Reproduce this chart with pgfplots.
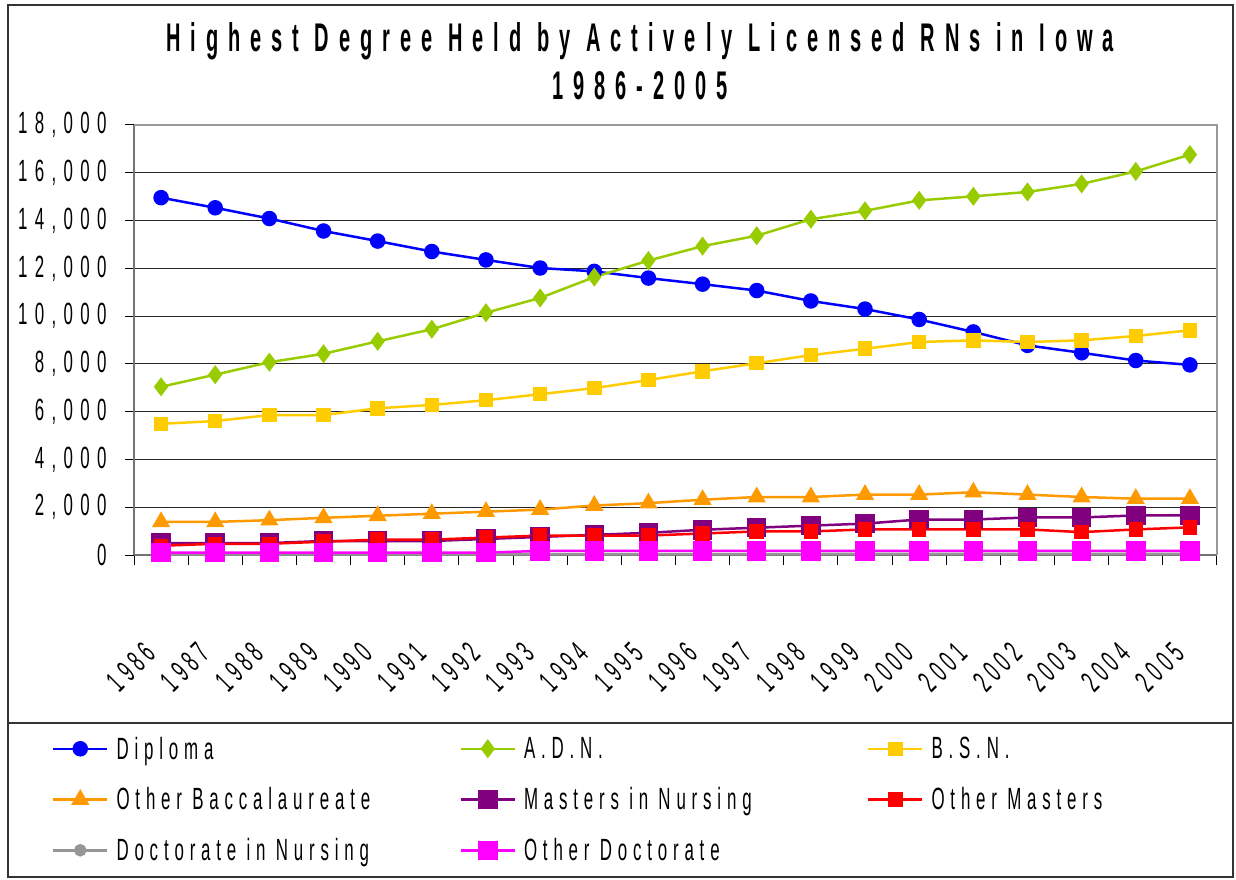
\documentclass[border=0pt]{standalone}
\usepackage{fontspec}
\setmainfont{Liberation Sans}
\newfontfamily\ticfont[FakeStretch=0.55,LetterSpace=17]{Liberation Sans}
\newfontfamily\yticfont[FakeStretch=0.55,LetterSpace=24]{Liberation Sans}
\newfontfamily\legfont[FakeStretch=0.55,LetterSpace=19]{Liberation Sans}
\newfontfamily\titlefont[FakeStretch=0.5,LetterSpace=25]{Liberation Sans}
\usepackage{pgfplots}
\pgfplotsset{compat=1.18}
\definecolor{cDip}{RGB}{0,0,255}
\definecolor{cADN}{RGB}{153,204,0}
\definecolor{cBSN}{RGB}{255,204,0}
\definecolor{cOB}{RGB}{255,153,0}
\definecolor{cMN}{RGB}{128,0,128}
\definecolor{cOM}{RGB}{255,0,0}
\definecolor{cDN}{RGB}{150,150,150}
\definecolor{cOD}{RGB}{255,0,255}
\newcommand{\tf}{\ticfont\fontsize{30.7}{32}\selectfont}
\newcommand{\ytf}{\yticfont\fontsize{30.7}{32}\selectfont}
\newcommand{\lf}{\legfont\fontsize{30.7}{32}\selectfont}
\begin{document}
\begin{tikzpicture}
\useasboundingbox (0pt,0pt) rectangle (1236pt,879pt);
\draw[line width=1.5pt, black!80] (8pt,2pt) rectangle (1233pt,874pt);
\draw[line width=1.5pt, black!80] (8pt,156pt) -- (1233pt,156pt);
\node[anchor=base, inner sep=0pt] at (640pt,827pt) {\titlefont\bfseries\fontsize{40}{42}\selectfont Highest Degree Held by Actively Licensed RNs in Iowa};
\node[anchor=base, inner sep=0pt] at (640pt,779pt) {\titlefont\bfseries\fontsize{40}{42}\selectfont 1986-2005};
\begin{axis}[
  at={(134pt,324pt)}, anchor=south west,
  scale only axis, width=1083pt, height=430pt,
  xmin=1985.5, xmax=2005.5, ymin=0, ymax=18000,
  clip=false,
  scaled y ticks=false,
  axis lines=left,
  axis line style={-, draw=black!55, line width=2pt},
  tick align=outside,
  major tick length=9pt, minor tick length=10pt,
  ytick={0,2000,...,18000},
  yticklabels={0,{2,000},{4,000},{6,000},{8,000},{10,000},{12,000},{14,000},{16,000},{18,000}},
  yticklabel style={font=\ytf, anchor=east, xshift=-15pt},
  ytick style={draw=black, line width=1pt},
  xtick={1986,...,2005},
  xticklabels={1986,1987,1988,1989,1990,1991,1992,1993,1994,1995,1996,1997,1998,1999,2000,2001,2002,2003,2004,2005},
  xticklabel style={font=\tf, anchor=center, xshift=-30pt, yshift=-103pt, rotate=45},
  major x tick style={draw=none},
  minor xtick={1985.5,1986.5,...,2005.5},
  minor x tick style={draw=black, line width=1pt},
  ymajorgrids,
  major grid style={draw=black!85, line width=1pt},
  every axis plot/.append style={line width=2.5pt},
  legend image code/.code={\draw[mark repeat=2,mark phase=2] plot coordinates {(0pt,0pt) (27pt,0pt) (54pt,0pt)};},
  legend columns=3,
  legend style={draw=none, fill=none, at={(-0.0757,-0.423)}, anchor=north west,
    inner sep=0pt, outer sep=0pt, row sep=27pt,
    nodes={inner sep=0pt, font=\lf, anchor=west},
    /tikz/every odd column/.append style={column sep=8pt},
    /tikz/every even column/.append style={text width=343pt}},
  after end axis/.code={\draw[draw=black!40, line width=1.5pt] (rel axis cs:0,1) -- (rel axis cs:1,1) -- (rel axis cs:1,0);},
]
\addplot[color=cDip, mark=*, mark size=6.5pt, mark options={solid}] coordinates {
(1986,14958)(1987,14535)(1988,14085)(1989,13563)(1990,13141)(1991,12704)(1992,12352)(1993,12014)(1994,11873)(1995,11592)
(1996,11338)(1997,11070)(1998,10634)(1999,10296)(2000,9859)(2001,9338)(2002,8775)(2003,8465)(2004,8141)(2005,7958)};
\addlegendentry{Diploma}
\addplot[color=cADN, mark=diamond*, mark size=7.5pt] coordinates {
(1986,7042)(1987,7549)(1988,8070)(1989,8423)(1990,8944)(1991,9451)(1992,10141)(1993,10761)(1994,11634)(1995,12324)
(1996,12930)(1997,13366)(1998,14056)(1999,14408)(2000,14845)(2001,15014)(2002,15197)(2003,15535)(2004,16056)(2005,16761)};
\addlegendentry{A.D.N.}
\addplot[color=cBSN, mark=square*, mark size=6pt] coordinates {
(1986,5493)(1987,5606)(1988,5859)(1989,5859)(1990,6141)(1991,6282)(1992,6479)(1993,6732)(1994,6986)(1995,7324)
(1996,7690)(1997,8028)(1998,8366)(1999,8634)(2000,8915)(2001,8986)(2002,8915)(2003,8986)(2004,9169)(2005,9408)};
\addlegendentry{B.S.N.}
\addplot[color=cOB, mark=triangle*, mark size=8pt] coordinates {
(1986,1386)(1987,1386)(1988,1457)(1989,1557)(1990,1643)(1991,1729)(1992,1814)(1993,1900)(1994,2071)(1995,2171)
(1996,2314)(1997,2428)(1998,2428)(1999,2528)(2000,2528)(2001,2628)(2002,2528)(2003,2428)(2004,2357)(2005,2357)};
\addlegendentry{Other Baccalaureate}
\addplot[color=cMN, mark=square*, mark size=8.5pt] coordinates {
(1986,500)(1987,500)(1988,500)(1989,586)(1990,586)(1991,586)(1992,671)(1993,757)(1994,843)(1995,929)
(1996,1057)(1997,1143)(1998,1229)(1999,1314)(2000,1486)(2001,1486)(2002,1571)(2003,1571)(2004,1657)(2005,1657)};
\addlegendentry{Masters in Nursing}
\addplot[color=cOM, mark=square*, mark size=6pt] coordinates {
(1986,386)(1987,471)(1988,471)(1989,557)(1990,643)(1991,643)(1992,729)(1993,814)(1994,814)(1995,814)
(1996,900)(1997,986)(1998,986)(1999,1071)(2000,1071)(2001,1071)(2002,1071)(2003,957)(2004,1071)(2005,1157)};
\addlegendentry{Other Masters}
\addplot[color=cDN, mark=*, mark size=5pt] coordinates {
(1986,30)(1987,30)(1988,30)(1989,30)(1990,30)(1991,30)(1992,30)(1993,40)(1994,40)(1995,40)
(1996,40)(1997,40)(1998,40)(1999,50)(2000,50)(2001,50)(2002,50)(2003,50)(2004,50)(2005,50)};
\addlegendentry{Doctorate in Nursing}
\addplot[color=cOD, mark=square*, mark size=8.5pt] coordinates {
(1986,100)(1987,100)(1988,100)(1989,100)(1990,100)(1991,100)(1992,100)(1993,171)(1994,171)(1995,171)
(1996,171)(1997,171)(1998,171)(1999,171)(2000,171)(2001,171)(2002,171)(2003,171)(2004,171)(2005,171)};
\addlegendentry{Other Doctorate}
\end{axis}
\end{tikzpicture}
\end{document}
